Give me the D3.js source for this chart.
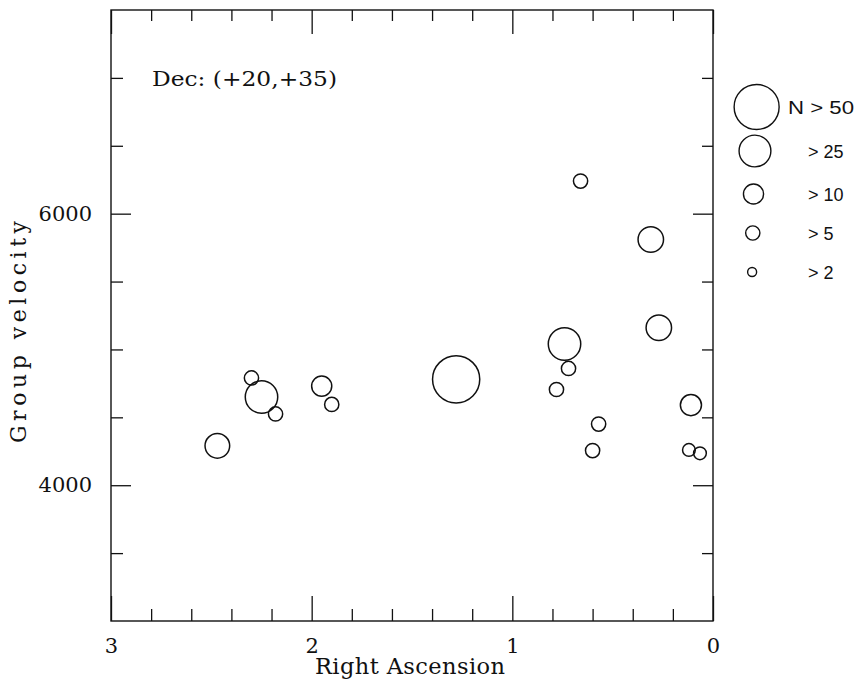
<!DOCTYPE html>
<html>
<head>
<meta charset="utf-8">
<script src="https://cdn.jsdelivr.net/npm/d3@7"></script>
<style>
  html, body { margin: 0; padding: 0; background: #fff; }
  svg { display: block; }
  .serif { font-family: "DejaVu Serif", "Liberation Serif", serif; fill: #111; }
  .sans { font-family: "Liberation Sans", Arial, sans-serif; fill: #111; }
</style>
</head>
<body>
<svg id="chart" width="858" height="682"></svg>
<script>
// Galaxy groups in the declination strip +20..+35 deg
const rightAscension = [2.47, 2.30, 2.25, 2.18, 1.95, 1.90, 1.28, 0.74, 0.72, 0.78,
                        0.66, 0.31, 0.27, 0.57, 0.60, 0.11, 0.12, 0.065];
const groupVelocity  = [4290, 4790, 4650, 4525, 4730, 4595, 4780, 5040, 4860, 4705,
                        6240, 5810, 5160, 4450, 4255, 4590, 4260, 4235];
const groupMembers   = [15, 5, 26, 5, 10, 5, 55, 26, 5, 5,
                        5, 16, 16, 5, 5, 11, 4, 4];

// Axis ticks
const raMajorTicks  = [3, 2, 1, 0];
const raMinorTicks  = [2.8, 2.6, 2.4, 2.2, 1.8, 1.6, 1.4, 1.2, 0.8, 0.6, 0.4, 0.2];
const velMajorTicks = [4000, 6000];
const velMinorTicks = [3500, 4500, 5000, 5500, 6500, 7000];

// Legend membership thresholds
const legendMembers = [50, 25, 10, 5, 2];
const stripLabel = "Dec: (+20,+35)";

const INK = "#111";
const svg = d3.select("#chart");

const x = d3.scaleLinear().domain([3, 0]).range([111, 713]);
const y = d3.scaleLinear().domain([3000, 7500]).range([621, 10]);
const r = d3.scaleSqrt().domain([0, 50]).range([0, 22.5]);

// Frame
svg.append("rect")
  .attr("x", x(3)).attr("y", y(7500))
  .attr("width", x(0) - x(3)).attr("height", y(3000) - y(7500))
  .attr("fill", "none").attr("stroke", INK).attr("stroke-width", 1.4);

function finish(g, fontSize) {
  g.attr("font-family", null).attr("font-size", null);
  g.select(".domain").remove();
  g.selectAll(".tick line").attr("stroke", INK).attr("stroke-width", 1.3);
  g.selectAll(".tick text")
    .attr("class", "serif")
    .attr("fill", INK)
    .style("font-size", fontSize + "px");
}
const noLabel = () => "";

// Bottom and top (inward ticks)
svg.append("g").attr("transform", `translate(0,${y(3000)})`)
  .call(d3.axisBottom(x).tickValues(raMajorTicks).tickSize(-25).tickPadding(17).tickFormat(d3.format("d")))
  .call(g => finish(g, 21));
svg.append("g").attr("transform", `translate(0,${y(3000)})`)
  .call(d3.axisBottom(x).tickValues(raMinorTicks).tickSize(-12).tickFormat(noLabel))
  .call(g => finish(g, 21));
svg.append("g").attr("transform", `translate(0,${y(7500)})`)
  .call(d3.axisTop(x).tickValues(raMajorTicks).tickSize(-24).tickFormat(noLabel))
  .call(g => finish(g, 21));
svg.append("g").attr("transform", `translate(0,${y(7500)})`)
  .call(d3.axisTop(x).tickValues(raMinorTicks).tickSize(-11).tickFormat(noLabel))
  .call(g => finish(g, 21));

// Left and right (inward ticks)
svg.append("g").attr("transform", `translate(${x(3)},0)`)
  .call(d3.axisLeft(y).tickValues(velMajorTicks).tickSize(-20).tickPadding(19).tickFormat(d3.format("d")))
  .call(g => finish(g, 21));
svg.append("g").attr("transform", `translate(${x(3)},0)`)
  .call(d3.axisLeft(y).tickValues(velMinorTicks).tickSize(-12).tickFormat(noLabel))
  .call(g => finish(g, 21));
svg.append("g").attr("transform", `translate(${x(0)},0)`)
  .call(d3.axisRight(y).tickValues(velMajorTicks).tickSize(-20).tickFormat(noLabel))
  .call(g => finish(g, 21));
svg.append("g").attr("transform", `translate(${x(0)},0)`)
  .call(d3.axisRight(y).tickValues(velMinorTicks).tickSize(-11).tickFormat(noLabel))
  .call(g => finish(g, 21));

// Axis titles
svg.append("text").attr("class", "serif")
  .attr("x", 410).attr("y", 674)
  .attr("text-anchor", "middle")
  .attr("textLength", 190).attr("lengthAdjust", "spacing")
  .style("font-size", "22.5px")
  .text("Right Ascension");

svg.append("text").attr("class", "serif")
  .attr("transform", "translate(26,332) rotate(-90)")
  .attr("text-anchor", "middle")
  .attr("textLength", 222).attr("lengthAdjust", "spacing")
  .style("font-size", "22px")
  .text("Group velocity");

// Strip label
svg.append("text").attr("class", "serif")
  .attr("x", 152).attr("y", 86)
  .attr("textLength", 185).attr("lengthAdjust", "spacingAndGlyphs")
  .style("font-size", "19.5px")
  .text(stripLabel);

// Groups
const groups = rightAscension.map((ra, i) => ({ ra, v: groupVelocity[i], n: groupMembers[i] }));
svg.append("g").selectAll("circle")
  .data(groups)
  .join("circle")
  .attr("cx", d => x(d.ra))
  .attr("cy", d => y(d.v))
  .attr("r", d => r(d.n))
  .attr("fill", "none")
  .attr("stroke", INK)
  .attr("stroke-width", 1.5);

// Size legend
const legendRowY = [107, 151, 194, 233, 272];
const legend = svg.append("g");
legend.selectAll("circle")
  .data(legendMembers)
  .join("circle")
  .attr("cx", d => 751 + r(d) * 0.25)
  .attr("cy", (d, i) => legendRowY[i])
  .attr("r", d => r(d))
  .attr("fill", "none")
  .attr("stroke", INK)
  .attr("stroke-width", 1.4);
legend.selectAll("text")
  .data(legendMembers)
  .join("text")
  .attr("class", "sans")
  .attr("x", (d, i) => i === 0 ? 788 : 808)
  .attr("y", (d, i) => legendRowY[i] + 6.5)
  .style("font-size", "18px")
  .each(function (d, i) {
    if (i === 0) d3.select(this).attr("textLength", 66).attr("lengthAdjust", "spacingAndGlyphs");
  })
  .text((d, i) => (i === 0 ? "N > " : "> ") + d);
</script>
</body>
</html>
